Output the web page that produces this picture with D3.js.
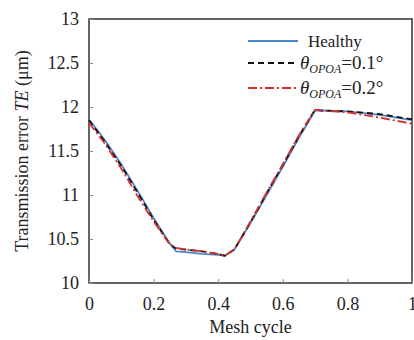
<!DOCTYPE html>
<html>
<head>
<meta charset="utf-8">
<script src="https://cdn.jsdelivr.net/npm/d3@7"></script>
<style>
  body { margin: 0; background: #fff; }
  text { font-family: "Liberation Serif", "DejaVu Serif", serif; fill: #222; }
</style>
</head>
<body>
<svg id="chart" width="414" height="340"></svg>
<script>
// mesh cycle positions
var meshX = [0, 0.05, 0.1, 0.15, 0.2, 0.25, 0.27, 0.3, 0.35, 0.4, 0.42, 0.45, 0.5, 0.55, 0.6, 0.65, 0.7, 0.72, 0.8, 0.9, 1];
var healthy = [11.86, 11.62, 11.35, 11.05, 10.74, 10.45, 10.36, 10.35, 10.33, 10.32, 10.31, 10.38, 10.68, 11.0, 11.32, 11.65, 11.96, 11.96, 11.95, 11.91, 11.85];
var opoa01 = [11.85, 11.6, 11.33, 11.03, 10.72, 10.44, 10.39, 10.38, 10.36, 10.33, 10.31, 10.38, 10.69, 11.02, 11.34, 11.67, 11.97, 11.96, 11.95, 11.92, 11.86];
var opoa02 = [11.82, 11.58, 11.3, 10.99, 10.7, 10.44, 10.4, 10.38, 10.36, 10.33, 10.31, 10.38, 10.7, 11.03, 11.35, 11.68, 11.97, 11.96, 11.94, 11.88, 11.81];
var xTicks = [0, 0.2, 0.4, 0.6, 0.8, 1];
var yTicks = [10, 10.5, 11, 11.5, 12, 12.5, 13];

var margin = {top: 19, right: 2, bottom: 57, left: 89};
var svg = d3.select("#chart");
var width = 414, height = 340;

var x = d3.scaleLinear().domain([0, 1]).range([margin.left, width - margin.right]);
var y = d3.scaleLinear().domain([10, 13]).range([height - margin.bottom, margin.top]);

// frame
svg.append("rect")
  .attr("x", x(0)).attr("y", y(13))
  .attr("width", x(1) - x(0)).attr("height", y(10) - y(13))
  .attr("fill", "none").attr("stroke", "#333").attr("stroke-width", 1.5);

var xAxis = svg.append("g")
  .attr("transform", `translate(0,${y(10)})`)
  .call(d3.axisBottom(x).tickValues(xTicks).tickSize(-4).tickPadding(14).tickFormat(d3.format("")));
xAxis.select(".domain").remove();
xAxis.selectAll("line").attr("stroke", "#888");
xAxis.selectAll("text").attr("font-size", 18);

var yAxis = svg.append("g")
  .attr("transform", `translate(${x(0)},0)`)
  .call(d3.axisLeft(y).tickValues(yTicks).tickSize(-4).tickPadding(10).tickFormat(d3.format("")));
yAxis.select(".domain").remove();
yAxis.selectAll("line").attr("stroke", "#888");
yAxis.selectAll("text").attr("font-size", 18);

svg.append("text")
  .attr("x", (x(0) + x(1)) / 2).attr("y", 333)
  .attr("text-anchor", "middle").attr("font-size", 18)
  .text("Mesh cycle");

svg.append("text")
  .attr("transform", `translate(28,${(y(10) + y(13)) / 2}) rotate(-90)`)
  .attr("text-anchor", "middle").attr("font-size", 18)
  .html('Transmission error <tspan font-style="italic">TE</tspan> (μm)');

var series = [
  {name: "healthy", values: healthy, color: "#4a86c8", dash: null},
  {name: "0.1", values: opoa01, color: "#111", dash: "6,4"},
  {name: "0.2", values: opoa02, color: "#d9302b", dash: "9,3,2,3"}
];

var line = d3.line().x((d, i) => x(meshX[i])).y(d => y(d));

svg.append("g").selectAll("path").data(series).join("path")
  .attr("d", d => line(d.values))
  .attr("fill", "none")
  .attr("stroke", d => d.color)
  .attr("stroke-width", 1.8)
  .attr("stroke-dasharray", d => d.dash);

// legend
var legendY = [41, 63, 88];
var lg = svg.append("g").selectAll("g").data(series).join("g")
  .attr("transform", (d, i) => `translate(248,${legendY[i]})`);
lg.append("line")
  .attr("x1", 0).attr("x2", 50)
  .attr("stroke", d => d.color).attr("stroke-width", 1.8)
  .attr("stroke-dasharray", d => d.dash);
lg.filter(d => d.name == "healthy").append("text")
  .attr("x", 60).attr("y", 6).attr("font-size", 17)
  .text("Healthy");
var lt = lg.filter(d => d.name != "healthy").append("text")
  .attr("x", 52).attr("y", 6).attr("font-size", 19);
lt.append("tspan").attr("font-style", "italic").text("θ");
lt.append("tspan").attr("font-style", "italic").attr("font-size", 12).attr("dy", 4).text("OPOA");
lt.append("tspan").attr("dy", -4).text(d => "=" + d.name + "°");
</script>
</body>
</html>
